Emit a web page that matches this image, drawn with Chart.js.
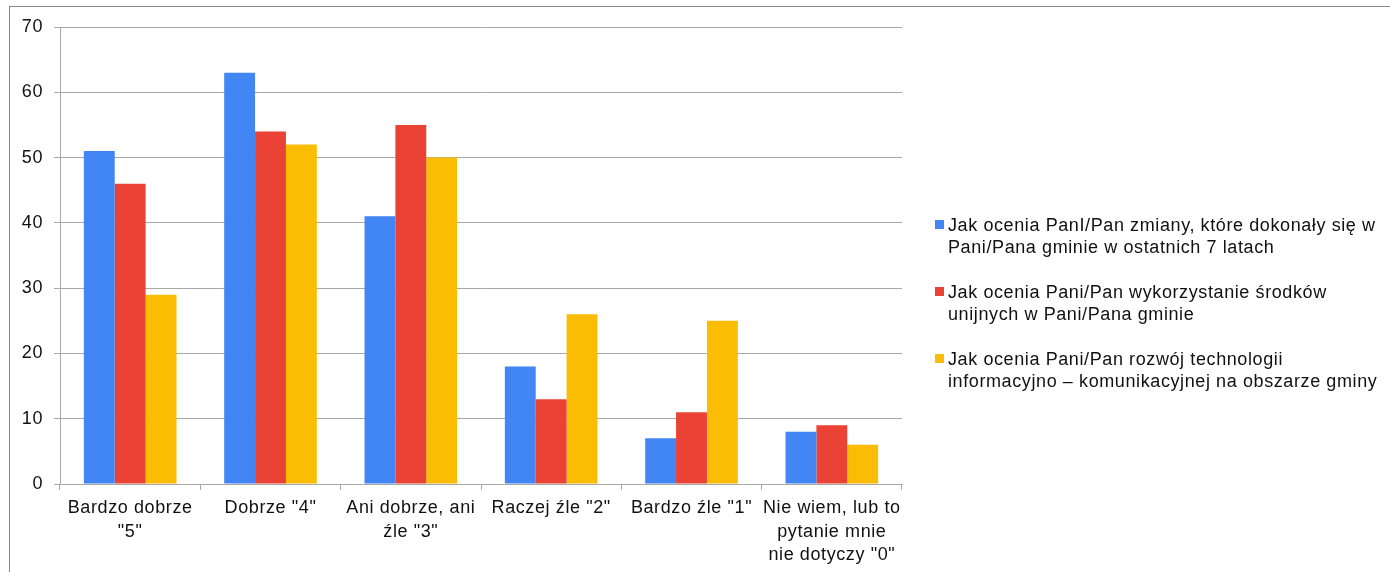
<!DOCTYPE html>
<html>
<head>
<meta charset="utf-8">
<script src="https://cdn.jsdelivr.net/npm/chart.js@4.4.1/dist/chart.umd.min.js"></script>
<style>
  html, body { margin: 0; padding: 0; background: #fff; }
  #wrap { position: relative; width: 1390px; height: 572px; overflow: hidden; }
  #frame { position: absolute; left: 9px; top: 6px; right: -2px; bottom: -2px;
           border-top: 1px solid #8a8a8a; border-left: 1px solid #8a8a8a; }
  canvas { position: absolute; left: 0; top: 0; }
  #legend { position: absolute; left: 935px; top: 214px; font-family: "Liberation Sans", Arial, sans-serif;
            font-size: 18px; letter-spacing: 0.6px; color: #111; }
  .item { position: relative; padding-left: 13px; line-height: 22px; height: 67px; white-space: nowrap; }
  .box { position: absolute; left: 0; top: 6px; width: 9px; height: 9px; }
</style>
</head>
<body>
<div id="wrap">
  <div id="frame"></div>
  <canvas id="chart" width="1390" height="572"></canvas>
  <div id="legend"></div>
</div>
<script>
const categories = [
  ['Bardzo dobrze', '"5"'],
  'Dobrze "4"',
  ['Ani dobrze, ani', 'źle "3"'],
  'Raczej źle "2"',
  'Bardzo źle "1"',
  ['Nie wiem, lub to', 'pytanie mnie', 'nie dotyczy "0"']
];

const seriesNames = [
  ['Jak ocenia PanI/Pan zmiany, które dokonały się w', 'Pani/Pana gminie w ostatnich 7 latach'],
  ['Jak ocenia Pani/Pan wykorzystanie środków', 'unijnych w Pani/Pana gminie'],
  ['Jak ocenia Pani/Pan rozwój technologii', 'informacyjno – komunikacyjnej na obszarze gminy']
];

const zmiany = [51, 63, 41, 18, 7, 8];
const srodki = [46, 54, 55, 13, 11, 9];
const technologie = [29, 52, 50, 26, 25, 6];

const colors = ['#4285F4', '#EA4335', '#FBBC04'];
const yTicks = [0, 10, 20, 30, 40, 50, 60, 70];

const font = "'Liberation Sans', Arial, sans-serif";
const gridColor = '#a8a8a8';

const values = [zmiany, srodki, technologie];
const datasets = values.map((v, i) => ({
  label: seriesNames[i].join(' '),
  data: v,
  backgroundColor: colors[i],
  borderWidth: 0,
  categoryPercentage: 0.66,
  barPercentage: 1.0
}));

// wider letter spacing like the original export
const spacing = {
  id: 'spacing',
  beforeInit: c => { c.ctx.letterSpacing = '0.6px'; },
  beforeDraw: c => { c.ctx.letterSpacing = '0.6px'; }
};

new Chart(document.getElementById('chart'), {
  type: 'bar',
  data: { labels: categories, datasets },
  plugins: [spacing],
  options: {
    responsive: false,
    animation: false,
    layout: { padding: { left: 0, top: 27, right: 488, bottom: 0 } },
    plugins: { legend: { display: false }, tooltip: { enabled: false } },
    scales: {
      x: {
        grid: { drawOnChartArea: false, drawTicks: true, tickLength: 6, color: gridColor, offset: true },
        border: { color: gridColor },
        ticks: { color: '#111', font: { family: font, size: 18, lineHeight: 1.28 }, padding: 7, maxRotation: 0, autoSkip: false },
        afterFit: s => { s.height = 88; }
      },
      y: {
        min: 0, max: 70,
        afterBuildTicks: s => { s.ticks = yTicks.map(v => ({ value: v })); },
        grid: { color: gridColor, tickLength: 6 },
        border: { color: gridColor },
        ticks: { color: '#111', font: { family: font, size: 18 }, padding: 11 },
        afterFit: s => { s.width = 60; }
      }
    }
  }
});

const legend = document.getElementById('legend');
seriesNames.forEach((lines, i) => {
  const item = document.createElement('div');
  item.className = 'item';
  const box = document.createElement('span');
  box.className = 'box';
  box.style.background = colors[i];
  item.appendChild(box);
  lines.forEach((t, j) => {
    if (j) item.appendChild(document.createElement('br'));
    item.appendChild(document.createTextNode(t));
  });
  legend.appendChild(item);
});
</script>
</body>
</html>
